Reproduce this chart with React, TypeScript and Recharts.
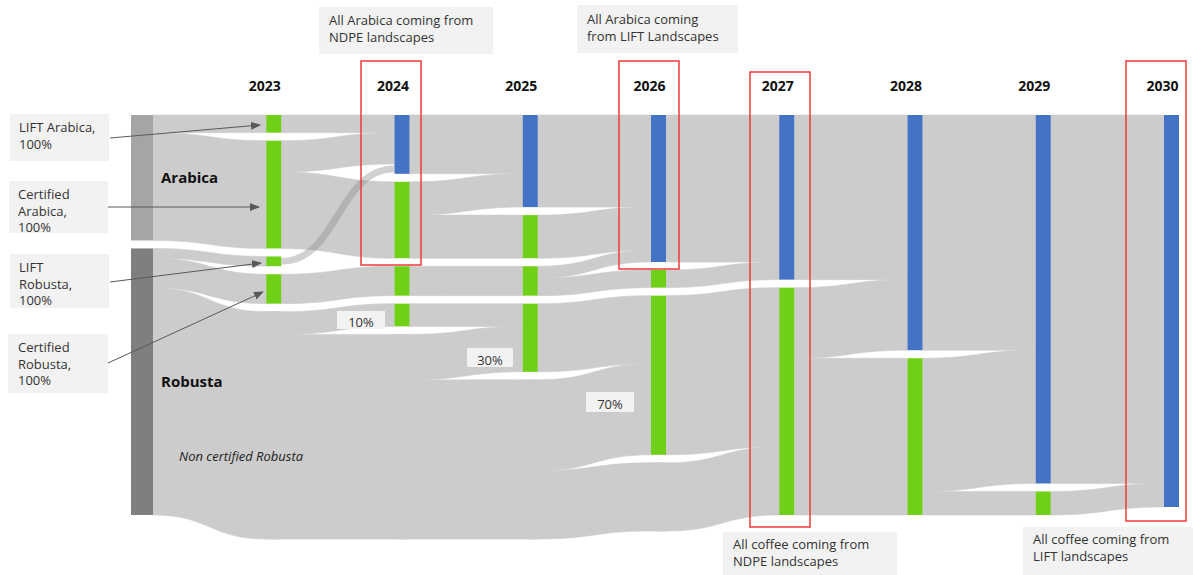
import React from 'react';
import { Sankey } from 'recharts';

// share of total coffee volume (%)
const years = ['2023', '2024', '2025', '2026', '2027', '2028', '2029', '2030'];

const nodes = [
  { name: 'Arabica', kind: 'arabica' },
  { name: 'Robusta', kind: 'robusta' },
  // 2023
  { name: 'LIFT Arabica 2023', kind: 'green' },
  { name: 'Certified Arabica 2023', kind: 'green' },
  { name: 'LIFT Robusta 2023', kind: 'green' },
  { name: 'Certified Robusta 2023', kind: 'green' },
  { name: 'Non certified Robusta 2023', kind: 'pass' },
  // 2024
  { name: 'LIFT 2024', kind: 'blue' },
  { name: 'Certified Arabica 2024', kind: 'green' },
  { name: 'Certified Robusta 2024', kind: 'green' },
  { name: 'Newly certified Robusta 2024', kind: 'green' },
  { name: 'Non certified Robusta 2024', kind: 'pass' },
  // 2025
  { name: 'LIFT 2025', kind: 'blue' },
  { name: 'Certified Arabica 2025', kind: 'green' },
  { name: 'Certified Robusta 2025', kind: 'green' },
  { name: 'Newly certified Robusta 2025', kind: 'green' },
  { name: 'Non certified Robusta 2025', kind: 'pass' },
  // 2026
  { name: 'LIFT 2026', kind: 'blue' },
  { name: 'Certified Robusta 2026', kind: 'green' },
  { name: 'Newly certified Robusta 2026', kind: 'green' },
  { name: 'Non certified Robusta 2026', kind: 'pass' },
  // 2027 - 2030
  { name: 'LIFT 2027', kind: 'blue' },
  { name: 'NDPE 2027', kind: 'green' },
  { name: 'LIFT 2028', kind: 'blue' },
  { name: 'NDPE 2028', kind: 'green' },
  { name: 'LIFT 2029', kind: 'blue' },
  { name: 'NDPE 2029', kind: 'green' },
  { name: 'LIFT 2030', kind: 'blue' },
];

const flows: [string, string, number][] = [
  ['Arabica', 'LIFT Arabica 2023', 4.5],
  ['Arabica', 'Certified Arabica 2023', 27.5],
  ['Robusta', 'LIFT Robusta 2023', 2.5],
  ['Robusta', 'Certified Robusta 2023', 7.5],
  ['Robusta', 'Non certified Robusta 2023', 58],

  ['LIFT Arabica 2023', 'LIFT 2024', 4.5],
  ['Certified Arabica 2023', 'LIFT 2024', 8],
  ['Certified Arabica 2023', 'Certified Arabica 2024', 19.5],
  ['Certified Robusta 2023', 'Certified Robusta 2024', 7.5],
  ['Non certified Robusta 2023', 'Newly certified Robusta 2024', 5.8],
  ['Non certified Robusta 2023', 'Non certified Robusta 2024', 52.2],

  ['LIFT 2024', 'LIFT 2025', 15],
  ['Certified Arabica 2024', 'LIFT 2025', 8.5],
  ['Certified Arabica 2024', 'Certified Arabica 2025', 11],
  ['Certified Robusta 2024', 'Certified Robusta 2025', 7.5],
  ['Newly certified Robusta 2024', 'Newly certified Robusta 2025', 5.8],
  ['Non certified Robusta 2024', 'Newly certified Robusta 2025', 11.6],
  ['Non certified Robusta 2024', 'Non certified Robusta 2025', 40.6],

  ['LIFT 2025', 'LIFT 2026', 23.5],
  ['Certified Arabica 2025', 'LIFT 2026', 11],
  ['Certified Robusta 2025', 'LIFT 2026', 3],
  ['Certified Robusta 2025', 'Certified Robusta 2026', 4.5],
  ['Newly certified Robusta 2025', 'Newly certified Robusta 2026', 17.4],
  ['Non certified Robusta 2025', 'Newly certified Robusta 2026', 23.2],
  ['Non certified Robusta 2025', 'Non certified Robusta 2026', 17.4],

  ['LIFT 2026', 'LIFT 2027', 37.5],
  ['Certified Robusta 2026', 'LIFT 2027', 4.5],
  ['Newly certified Robusta 2026', 'NDPE 2027', 40.6],
  ['Non certified Robusta 2026', 'NDPE 2027', 17.4],

  ['LIFT 2027', 'LIFT 2028', 42],
  ['NDPE 2027', 'LIFT 2028', 18],
  ['NDPE 2027', 'NDPE 2028', 40],

  ['LIFT 2028', 'LIFT 2029', 60],
  ['NDPE 2028', 'LIFT 2029', 34],
  ['NDPE 2028', 'NDPE 2029', 6],

  ['LIFT 2029', 'LIFT 2030', 94],
  ['NDPE 2029', 'LIFT 2030', 6],

  // LIFT Robusta moving into LIFT landscapes (drawn as the darker swoosh)
  ['LIFT Robusta 2023', 'LIFT 2024', 2.5],
];

const nodeIndex = (name: string) => nodes.findIndex((n) => n.name === name);
const links = flows.map(([s, t, value]) => ({ source: nodeIndex(s), target: nodeIndex(t), value }));

const fills: Record<string, string> = {
  arabica: '#a5a5a5',
  robusta: '#7f7f7f',
  green: '#6fd017',
  blue: '#4472c4',
  pass: '#cccccc',
};

const FONT = "'Open Sans', 'Noto Sans', sans-serif";
const PAGE_W = 1194;
const PAGE_H = 575;
const W = 1178;
const H = 559;
const MARGIN = { top: 107, right: 7, bottom: 28, left: 130 };

function renderNode(props: any) {
  const { x, y, width, height, payload } = props;
  const kind = payload.kind;
  const fill = fills[kind];
  const isTop = Math.abs(y - MARGIN.top) < 0.5;
  if (payload.depth === 0) {
    return (
      <g>
        <rect x={x - 7} y={y} width={width + 7} height={height} fill={fill} />
        <text
          x={x + width + 8}
          y={y + height / 2 - 1}
          dominantBaseline="central"
          fontFamily={FONT}
          fontWeight={700}
          fontSize={15}
          fill="#111"
        >
          {payload.name}
        </text>
      </g>
    );
  }
  return (
    <g>
      <rect
        x={x}
        y={y}
        width={width}
        height={height}
        fill={fill}
        stroke={kind === 'pass' ? fill : 'none'}
        strokeWidth={kind === 'pass' ? 1 : 0}
      />
      {isTop && (
        <text
          x={x + width / 2 - 9}
          y={y - 30}
          textAnchor="middle"
          dominantBaseline="central"
          fontFamily={FONT}
          fontWeight={700}
          fontSize={14}
          fill="#111"
        >
          {years[payload.depth - 1]}
        </text>
      )}
    </g>
  );
}

function renderLink(props: any) {
  const { sourceX, targetX, sourceY, targetY, sourceControlX, targetControlX, linkWidth, payload } = props;
  const src = typeof payload.source === 'object' ? payload.source : nodes[payload.source];
  const h = linkWidth / 2;
  if (src && src.name === 'LIFT Robusta 2023') {
    return (
      <path
        d={`M${sourceX},${sourceY}C${sourceControlX},${sourceY} ${targetControlX},${targetY} ${targetX},${targetY}`}
        fill="none"
        stroke="#8c8c8c"
        strokeOpacity={0.4}
        strokeWidth={linkWidth * 0.7}
      />
    );
  }
  const d =
    `M${sourceX},${sourceY - h}C${sourceControlX},${sourceY - h} ${targetControlX},${targetY - h} ${targetX},${targetY - h}` +
    `L${targetX},${targetY + h}C${targetControlX},${targetY + h} ${sourceControlX},${sourceY + h} ${sourceX},${sourceY + h}Z`;
  return <path d={d} fill="#cccccc" stroke="#cccccc" strokeWidth={0.6} />;
}

type Note = { x: number; y: number; w: number; h: number; lines: string[]; tx: number; ty: number };

const notes: Note[] = [
  { x: 2, y: 106, w: 99, h: 47, lines: ['LIFT Arabica,', '100%'], tx: 11, ty: 119 },
  { x: 1, y: 173, w: 99, h: 52, lines: ['Certified', 'Arabica,', '100%'], tx: 10, ty: 186 },
  { x: 2, y: 246, w: 99, h: 54, lines: ['LIFT', 'Robusta,', '100%'], tx: 11, ty: 259 },
  { x: 0, y: 326, w: 100, h: 59, lines: ['Certified', 'Robusta,', '100%'], tx: 10, ty: 339 },
  { x: 311, y: -1, w: 174, h: 47, lines: ['All Arabica coming from', 'NDPE landscapes'], tx: 321, ty: 12 },
  { x: 569, y: -3, w: 161, h: 48, lines: ['All Arabica coming', 'from LIFT Landscapes'], tx: 579, ty: 11 },
  { x: 715, y: 524, w: 174, h: 45, lines: ['All coffee coming from', 'NDPE landscapes'], tx: 725, ty: 536 },
  { x: 1015, y: 519, w: 170, h: 50, lines: ['All coffee coming from', 'LIFT landscapes'], tx: 1025, ty: 531 },
];

const percents = [
  { x: 329, y: 303, w: 48, h: 18, label: '10%' },
  { x: 459, y: 340, w: 46, h: 19, label: '30%' },
  { x: 578, y: 384, w: 48, h: 20, label: '70%' },
];

const highlights = [
  { x: 353, y: 53, w: 60, h: 204 },
  { x: 611, y: 53, w: 60, h: 208 },
  { x: 742, y: 64, w: 60, h: 455 },
  { x: 1118, y: 53, w: 60, h: 460 },
];

const pointers = [
  { x1: 102, y1: 130, x2: 252, y2: 117 },
  { x1: 100, y1: 199, x2: 251, y2: 199 },
  { x1: 102, y1: 274, x2: 253, y2: 255 },
  { x1: 100, y1: 355, x2: 255, y2: 284 },
];

function Overlay() {
  return (
    <svg width={PAGE_W} height={PAGE_H} style={{ position: 'absolute', left: 0, top: 0, pointerEvents: 'none' }}>
      <defs>
        <marker id="arrowHead" markerWidth="10" markerHeight="8" refX="9" refY="4" orient="auto" markerUnits="userSpaceOnUse">
          <path d="M0,0 L10,4 L0,8 Z" fill="#595959" />
        </marker>
      </defs>
      <g transform="translate(8,8)">
        {notes.map((n, i) => (
          <g key={`n${i}`}>
            <rect x={n.x} y={n.y} width={n.w} height={n.h} fill="#f2f2f2" />
            {n.lines.map((l, j) => (
              <text
                key={j}
                x={n.tx}
                y={n.ty + j * 16.5}
                dominantBaseline="central"
                fontFamily={FONT}
                fontSize={13}
                fill="#333"
              >
                {l}
              </text>
            ))}
          </g>
        ))}
        {pointers.map((p, i) => (
          <line key={`p${i}`} x1={p.x1} y1={p.y1} x2={p.x2} y2={p.y2} stroke="#595959" strokeWidth={1} markerEnd="url(#arrowHead)" />
        ))}
        {percents.map((p, i) => (
          <g key={`pc${i}`}>
            <rect x={p.x} y={p.y} width={p.w} height={p.h} fill="#f2f2f2" />
            <text
              x={p.x + p.w / 2}
              y={p.y + p.h / 2 + 2}
              textAnchor="middle"
              dominantBaseline="central"
              fontFamily={FONT}
              fontSize={13}
              fill="#333"
            >
              {p.label}
            </text>
          </g>
        ))}
        <text x={171} y={448} dominantBaseline="central" fontFamily={FONT} fontStyle="italic" fontSize={13} fill="#222">
          Non certified Robusta
        </text>
        {highlights.map((r, i) => (
          <rect key={`h${i}`} x={r.x} y={r.y} width={r.w} height={r.h} fill="none" stroke="#f03a3a" strokeWidth={1.5} />
        ))}
      </g>
    </svg>
  );
}

export default function App() {
  return (
    <div style={{ position: 'absolute', left: 0, top: 0, width: PAGE_W, height: PAGE_H, overflow: 'hidden' }}>
      <div style={{ position: 'absolute', left: 8, top: 8, width: W, height: H }}>
        <Sankey
          width={W}
          height={H}
          data={{ nodes, links }}
          margin={MARGIN}
          nodeWidth={15}
          nodePadding={8}
          iterations={0}
          linkCurvature={0.5}
          node={renderNode}
          link={renderLink}
        />
      </div>
      <Overlay />
    </div>
  );
}
